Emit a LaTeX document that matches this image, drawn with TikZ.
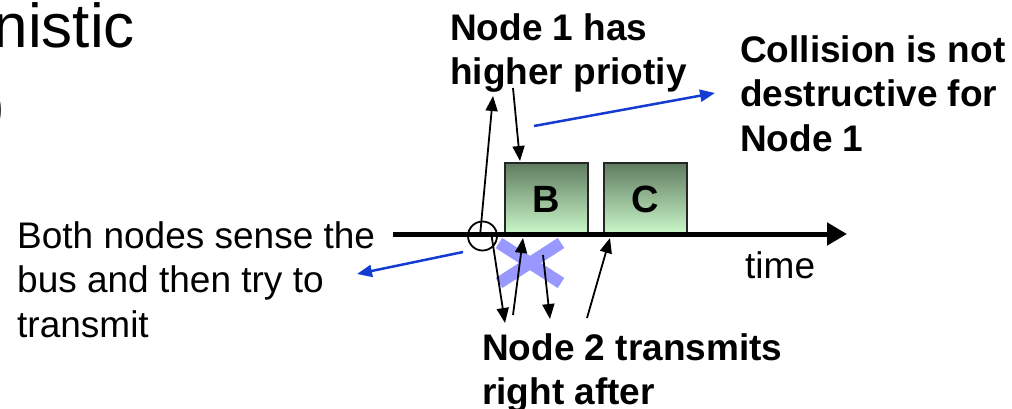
\documentclass[tikz,border=0pt]{standalone}
\usepackage{fontspec}
\setmainfont{Liberation Sans}
\usetikzlibrary{positioning,arrows.meta,shapes.misc}
\definecolor{pktTop}{RGB}{96,124,96}
\definecolor{pktBot}{RGB}{204,250,204}
\definecolor{crossBlue}{RGB}{152,152,255}
\definecolor{noteBlue}{RGB}{20,60,210}

\begin{document}
\begin{tikzpicture}[x=1pt,y=-1pt,
    lbl/.style={anchor=north west,inner sep=0pt,align=left,font=\fontsize{37}{44.5}\selectfont},
    blbl/.style={lbl,font=\fontsize{37}{44.5}\selectfont\bfseries},
    pkt/.style={draw=black!85,line width=2pt,top color=pktTop,bottom color=pktBot,
      minimum width=83pt,minimum height=72pt,inner sep=0pt,font=\fontsize{38}{38}\selectfont\bfseries},
    arr/.style={line width=1.8pt,-{Triangle[length=15pt,width=12pt]}},
    barr/.style={draw=noteBlue,line width=2.5pt,-{Triangle[length=15pt,width=12pt]}}]
        \useasboundingbox (0,0) rectangle (1012,408);
        % title left over from the slide
        \node[anchor=base east,inner sep=0pt,font=\fontsize{62}{62}\selectfont] (title) at (135,47) {nistic};
        \node[anchor=base east,inner sep=0pt,font=\fontsize{62}{62}\selectfont] (paren) at (5,126) {)};
        % frames on the bus
        \node[pkt] (B) at (546.5,199) {B};
        \node[pkt] (C) at (645.5,199) {C};
        \coordinate (busL) at (393,234);
        \coordinate (busR) at (847,234);
        \draw[line width=5pt,-{Triangle[length=20pt,width=22pt]}] (busL) -- (busR);
        \node[circle,draw,line width=1.8pt,minimum size=29pt,inner sep=0pt] (sense) at (482.5,236) {};
        \node[cross out,draw=crossBlue,line width=12pt,minimum width=50pt,minimum height=28pt,inner sep=0pt] (clash) at (530,263) {};
        % labels
        \node[lbl] (senseTxt) at (17,221) {Both nodes sense the\\bus and then try to\\transmit};
        \node[blbl] (n1Txt) at (450,13) {Node 1 has\\higher priotiy};
        \node[blbl] (okTxt) at (740,35) {Collision is not\\destructive for\\Node 1};
        \node[lbl] (timeTxt) at (745,251.5) {time};
        \node[blbl] (n2Txt) at (482,333) {Node 2 transmits\\right after};
        % arrow ends
        \coordinate (upA) at (480,236);
        \coordinate (upB) at (493,96);
        \coordinate (dnA) at (491,232);
        \coordinate (dnB) at (505,323);
        \coordinate (n2B) at (513,315);
        \coordinate (startB) at (523,238);
        \coordinate (lostA) at (543,255);
        \coordinate (lostB) at (550,319);
        \coordinate (n2C) at (587,318);
        \coordinate (startC) at (610,238);
        \coordinate (n1A) at (513,88);
        \coordinate (topB) at (520,161);
        \coordinate (okA) at (534,126);
        \coordinate (okB) at (715,93);
        \coordinate (senseA) at (463,252);
        \coordinate (senseB) at (357,274);
        \draw[arr] (upA) -- (upB);
        \draw[arr] (dnA) -- (dnB);
        \draw[arr] (n2B) -- (startB);
        \draw[arr] (lostA) -- (lostB);
        \draw[arr] (n2C) -- (startC);
        \draw[arr] (n1A) -- (topB);
        \draw[barr] (okA) -- (okB);
        \draw[barr] (senseA) -- (senseB);
\end{tikzpicture}
\end{document}
